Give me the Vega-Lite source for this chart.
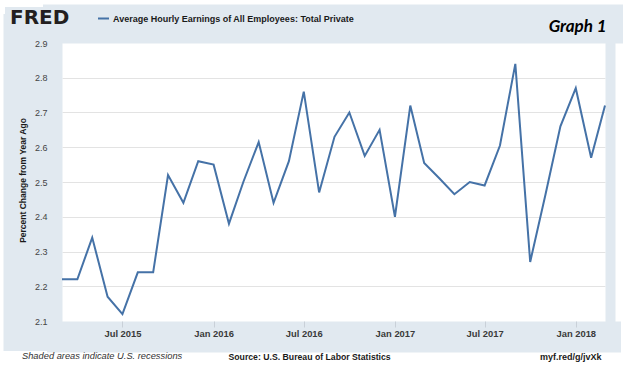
{
  "$schema": "https://vega.github.io/schema/vega-lite/v6.json",
  "width": 543,
  "height": 278,
  "autosize": {"type": "none"},
  "padding": {"left": 62, "top": 43, "right": 18, "bottom": 44},
  "background": "white",
  "config": {"view": {"stroke": null, "fill": "white"}},
  "title": {
    "text": "Shaded areas indicate U.S. recessions",
    "orient": "bottom",
    "anchor": "start",
    "frame": "group",
    "offset": 0,
    "dx": -40,
    "dy": -2,
    "baseline": "alphabetic",
    "font": "Liberation Sans",
    "fontSize": 9.3,
    "fontStyle": "italic",
    "fontWeight": "normal",
    "color": "#333333"
  },
  "data": {
    "values": [
      {"date": "2015-03-01", "value": 2.22},
      {"date": "2015-04-01", "value": 2.22},
      {"date": "2015-05-01", "value": 2.34},
      {"date": "2015-06-01", "value": 2.17},
      {"date": "2015-07-01", "value": 2.12},
      {"date": "2015-08-01", "value": 2.24},
      {"date": "2015-09-01", "value": 2.24},
      {"date": "2015-10-01", "value": 2.52},
      {"date": "2015-11-01", "value": 2.44},
      {"date": "2015-12-01", "value": 2.56},
      {"date": "2016-01-01", "value": 2.55},
      {"date": "2016-02-01", "value": 2.38},
      {"date": "2016-03-01", "value": 2.5},
      {"date": "2016-04-01", "value": 2.615},
      {"date": "2016-05-01", "value": 2.44},
      {"date": "2016-06-01", "value": 2.56},
      {"date": "2016-07-01", "value": 2.76},
      {"date": "2016-08-01", "value": 2.47},
      {"date": "2016-09-01", "value": 2.63},
      {"date": "2016-10-01", "value": 2.7},
      {"date": "2016-11-01", "value": 2.575},
      {"date": "2016-12-01", "value": 2.65},
      {"date": "2017-01-01", "value": 2.4},
      {"date": "2017-02-01", "value": 2.72},
      {"date": "2017-03-01", "value": 2.555},
      {"date": "2017-04-01", "value": 2.51},
      {"date": "2017-05-01", "value": 2.465},
      {"date": "2017-06-01", "value": 2.5},
      {"date": "2017-07-01", "value": 2.49},
      {"date": "2017-08-01", "value": 2.605},
      {"date": "2017-09-01", "value": 2.84},
      {"date": "2017-10-01", "value": 2.27},
      {"date": "2017-11-01", "value": 2.465},
      {"date": "2017-12-01", "value": 2.66},
      {"date": "2018-01-01", "value": 2.77},
      {"date": "2018-02-01", "value": 2.57},
      {"date": "2018-03-01", "value": 2.72}
    ]
  },
  "layer": [
    {
      "mark": {"type": "line", "opacity": 0},
      "encoding": {
        "x": {
          "field": "date",
          "type": "temporal",
          "scale": {"type": "utc"},
          "axis": {
            "orient": "bottom",
            "offset": 15.5,
            "domainColor": "#e1e9f0",
            "domainWidth": 31,
            "domainCap": "square",
            "labels": false,
            "ticks": false,
            "grid": false,
            "title": null,
            "zindex": 0
          }
        },
        "y": {
          "field": "value",
          "type": "quantitative",
          "scale": {"domain": [2.1, 2.9], "nice": false, "zero": false},
          "axis": {
            "orient": "left",
            "offset": 29.5,
            "domainColor": "#e1e9f0",
            "domainWidth": 59,
            "domainCap": "square",
            "labels": false,
            "ticks": false,
            "grid": true,
            "gridColor": "#e3e3e3",
            "gridWidth": 1,
            "gridOpacity": {"condition": {"test": "datum.value < 2.15 || datum.value > 2.85", "value": 0}, "value": 1},
            "values": [2.1, 2.2, 2.3, 2.4, 2.5, 2.6, 2.7, 2.8, 2.9],
            "title": null,
            "zindex": 0
          }
        }
      }
    },
    {
      "mark": {"type": "line", "opacity": 0},
      "encoding": {
        "x": {
          "field": "date",
          "type": "temporal",
          "axis": {
            "orient": "top",
            "offset": 19.5,
            "domainColor": "#e1e9f0",
            "domainWidth": 39,
            "domainCap": "square",
            "labels": false,
            "ticks": false,
            "grid": false,
            "title": "Graph 1",
            "titleX": 544,
            "titleY": 8,
            "titleAlign": "right",
            "titleBaseline": "alphabetic",
            "titleFont": "Lato",
            "titleFontSize": 17,
            "titleFontWeight": "bold",
            "titleFontStyle": "italic",
            "titleColor": "#000000",
            "zindex": 0
          }
        },
        "y": {
          "field": "value",
          "type": "quantitative",
          "axis": {
            "orient": "right",
            "offset": 5,
            "domainColor": "#e1e9f0",
            "domainWidth": 10,
            "domainCap": "square",
            "labels": false,
            "ticks": false,
            "grid": false,
            "title": "myf.red/g/jvXk",
            "titleX": -9,
            "titleY": 316,
            "titleAngle": 0,
            "titleAlign": "right",
            "titleBaseline": "alphabetic",
            "titleFont": "Liberation Sans",
            "titleFontSize": 9,
            "titleFontWeight": "bold",
            "titleColor": "#1a1a1a",
            "zindex": 0
          }
        }
      }
    },
    {
      "mark": {"type": "line", "strokeWidth": 2},
      "encoding": {
        "x": {
          "field": "date",
          "type": "temporal",
          "axis": {
            "orient": "bottom",
            "offset": 0,
            "domain": false,
            "grid": false,
            "ticks": true,
            "tickSize": 6,
            "tickColor": "#c9d0d8",
            "tickWidth": 1,
            "tickCount": {"interval": "month", "step": 6},
            "format": "%b %Y",
            "labelFlush": false,
            "labelOverlap": false,
            "labelPadding": 6,
            "labelBaseline": "middle",
            "labelAlign": "center",
            "labelFont": "Liberation Sans",
            "labelFontSize": 9.4,
            "labelFontWeight": "bold",
            "labelColor": "#3a3a3a",
            "title": "Source: U.S. Bureau of Labor Statistics",
            "titleX": 166,
            "titleY": 38,
            "titleAlign": "left",
            "titleBaseline": "alphabetic",
            "titleFont": "Liberation Sans",
            "titleFontSize": 8.7,
            "titleFontWeight": "bold",
            "titleColor": "#1a1a1a",
            "zindex": 2
          }
        },
        "y": {
          "field": "value",
          "type": "quantitative",
          "axis": {
            "orient": "left",
            "offset": 0,
            "domain": false,
            "ticks": false,
            "grid": false,
            "values": [2.1, 2.2, 2.3, 2.4, 2.5, 2.6, 2.7, 2.8, 2.9],
            "format": ".1f",
            "labelPadding": 15,
            "labelAlign": "right",
            "labelBaseline": "middle",
            "labelFont": "Liberation Sans",
            "labelFontSize": 9,
            "labelColor": "#444444",
            "title": "Percent Change from Year Ago",
            "titleX": -40,
            "titleY": 137,
            "titleAngle": 270,
            "titleAlign": "center",
            "titleBaseline": "middle",
            "titleFont": "Liberation Sans",
            "titleFontSize": 8.5,
            "titleFontWeight": "bold",
            "titleColor": "#1a1a1a",
            "zindex": 2
          }
        },
        "color": {
          "datum": "Average Hourly Earnings of All Employees: Total Private",
          "scale": {"range": ["#4572a7"]},
          "legend": {
            "orient": "none",
            "legendX": -57,
            "legendY": -36,
            "direction": "horizontal",
            "fillColor": "#e1e9f0",
            "padding": 5,
            "title": "FRED",
            "titleOrient": "left",
            "titleFont": "DejaVu Sans",
            "titleFontSize": 20,
            "titleFontWeight": "bold",
            "titleColor": "#231f20",
            "titlePadding": 27,
            "symbolType": "stroke",
            "symbolSize": 121,
            "symbolStrokeWidth": 2,
            "labelFont": "Liberation Sans",
            "labelFontSize": 9,
            "labelFontWeight": "bold",
            "labelColor": "#1a1a1a",
            "labelOffset": 3,
            "labelLimit": 400,
            "zindex": 1
          }
        }
      }
    }
  ],
  "resolve": {"axis": {"x": "independent", "y": "independent"}}
}
